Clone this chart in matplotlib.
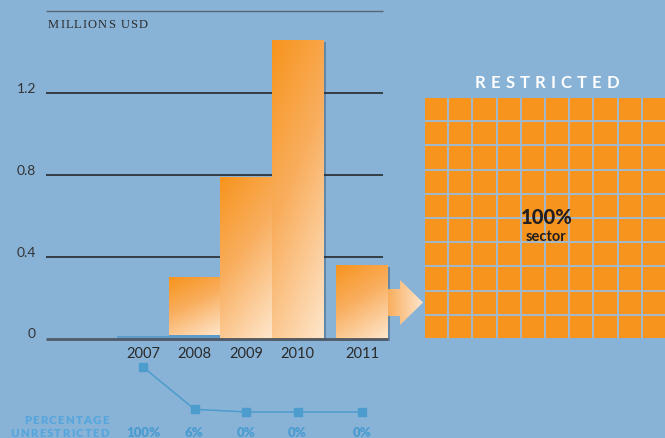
import numpy as np
import matplotlib
matplotlib.use('Agg')
import matplotlib.pyplot as plt
from matplotlib.patches import Rectangle, Polygon
from matplotlib.colors import LinearSegmentedColormap
import matplotlib.patheffects as pe
from matplotlib.font_manager import FontProperties

# ---------------- data ----------------
years = ['2007', '2008', '2009', '2010', '2011']
total_musd = [0.012, 0.30, 0.79, 1.46, 0.36]
pct_unrestricted = [100, 6, 0, 0, 0]
y_ticks = [0, 0.4, 0.8, 1.2]
y_tick_labels = ['0', '0.4', '0.8', '1.2']
restricted_share_2011 = 100          # percent -> filled grid cells
grid_label = '100%'
grid_sublabel = 'sector'
unit_label = 'MILLIONS USD'
grid_title = 'RESTRICTED'
pct_title = ['PERCENTAGE', 'UNRESTRICTED']

# ---------------- style ----------------
W, H = 665, 439
BG = '#88B3D7'
ORANGE = '#F7941D'
PEACH = '#FEE6CB'
BLUE = '#4C9CCD'
STRIP = '#5E9BCB'
FONT = 'Lato'

fig = plt.figure(figsize=(W / 100, H / 100), dpi=100, facecolor=BG)


def fx(px):
    return px / W


def fy(py):
    return 1 - py / H


x_pos = [0, 1, 2, 3, 4.25]
unit = 51.5
xl = ((46 - 143) / unit, (392 - 143) / unit)
x_grid_right = (383 - 143) / unit
x_base_right = (388 - 143) / unit

cmap = LinearSegmentedColormap.from_list('og', [(0, ORANGE), (0.45, '#F9AE5E'), (1, PEACH)])

# ---------------- main bar axes ----------------
ax = fig.add_axes([fx(46), fy(339.5), fx(392) - fx(46), fy(12) - fy(339.5)])
ax.axis('off')

ax.hlines(y_ticks[1:], xl[0], x_grid_right, color='#1d1d1d', lw=1.1, zorder=1)
ax.hlines(1.6, xl[0], x_grid_right, color='#5b6670', lw=1.0, zorder=1, clip_on=False)

yy = np.linspace(0, 1, 200)[:, None]
xx = np.linspace(0, 1, 60)[None, :]
grad = np.clip(0.3 * xx + 0.7 * (1 - yy), 0, 1)

for x, tot, p in zip(x_pos, total_musd, pct_unrestricted):
    unr = tot * p / 100
    rest = tot - unr
    shadow = Rectangle((x - 0.5, 0), 1, tot, fc=ORANGE if rest > 0 else STRIP, ec='none', zorder=2,
                       path_effects=[pe.SimplePatchShadow(offset=(2, -1.5), shadow_rgbFace='#1f3550', alpha=0.35),
                                     pe.Normal()], clip_on=False)
    ax.add_patch(shadow)
    if unr > 0:
        ax.add_patch(Rectangle((x - 0.5, 0), 1, unr, fc=STRIP, ec='none', zorder=3, clip_on=False))
    if rest > 0:
        rect = Rectangle((x - 0.5, unr), 1, rest, fc='none', ec='none', zorder=3)
        ax.add_patch(rect)
        im = ax.imshow(grad, extent=[x - 0.5, x + 0.5, unr, unr + rest], cmap=cmap, vmin=0, vmax=1,
                       aspect='auto', origin='lower', interpolation='bilinear', zorder=4)
        im.set_clip_path(rect)

ax.hlines(0, xl[0], x_base_right, color='#4F5B68', lw=2, zorder=5, clip_on=False)
ax.set_xlim(*xl)
ax.set_ylim(0, 1.6)

for v, lab in zip(y_ticks, y_tick_labels):
    ax.annotate(lab, xy=(xl[0], v), xytext=(-10, 5), textcoords='offset pixels', ha='right', va='center',
                fontsize=10, color='#333333', family=FONT, annotation_clip=False)
for x, lab in zip(x_pos, years):
    ax.annotate(lab, xy=(x, 0), xytext=(0, -15), textcoords='offset pixels', ha='center', va='center',
                fontsize=10.5, color='#2a2a2a', family=FONT, annotation_clip=False)

# ---------------- percentage line axes ----------------
ax2 = fig.add_axes([fx(46), fy(413), fx(392) - fx(46), fy(368) - fy(413)])
ax2.axis('off')
ax2.set_xlim(*xl)
ax2.set_ylim(0, 100)
ax2.plot(x_pos, pct_unrestricted, color=BLUE, lw=1.1, marker='s', ms=5.5, clip_on=False)
for x, p in zip(x_pos, pct_unrestricted):
    ax2.annotate(f'{p}%', xy=(x, 0), xytext=(0, -20), textcoords='offset pixels', ha='center', va='center',
                 fontsize=9.5, weight='heavy', color='#4A9BD0', family=FONT, annotation_clip=False)

# ---------------- overlay (pixel coordinates) ----------------
ax3 = fig.add_axes([0, 0, 1, 1])
ax3.axis('off')
renderer = fig.canvas.get_renderer()


def spaced(x, y, s, spacing, ha='left', size=10, weight='normal', color='k', family=FONT):
    fp = FontProperties(family=family, weight=weight, size=size)
    widths = []
    for c in s:
        if c == ' ':
            widths.append(size * 100 / 72 * 0.25)
        else:
            widths.append(renderer.get_text_width_height_descent(c, fp, ismath=False)[0])
    total = sum(widths) + spacing * (len(s) - 1)
    x0 = x - total / 2 if ha == 'center' else (x - total if ha == 'right' else x)
    for c, w in zip(s, widths):
        if c != ' ':
            ax3.text(x0, y, c, ha='left', va='center', fontproperties=fp, color=color)
        x0 += w + spacing


# grid of cells
gx0, gy0, pitch, gap = 425, 99, 24.2, 2.0
ax3.add_patch(Rectangle((gx0, gy0), 10 * pitch - gap, 10 * pitch - gap, fc='#A2B8C8', ec='none'))
for k in range(100):
    r, c = divmod(k, 10)
    fc = ORANGE if k < restricted_share_2011 else BG
    ax3.add_patch(Rectangle((gx0 + c * pitch, gy0 + r * pitch), pitch - gap, pitch - gap, fc=fc, ec='none'))

# arrow
arrow = Polygon([(388, 290), (400, 290), (400, 281), (423, 303.5), (400, 326), (400, 317), (388, 317)],
                closed=True, fc='none', ec='none')
ax3.add_patch(arrow)
agrad = np.linspace(0.45, 1, 100)[None, :]
aim = ax3.imshow(agrad, extent=[388, 423, 326, 281], cmap=cmap, vmin=0, vmax=1, aspect='auto',
                 interpolation='bilinear')
aim.set_clip_path(arrow)

ax3.set_xlim(0, W)
ax3.set_ylim(H, 0)

spaced(547, 83, grid_title, 5.2, ha='center', size=12, weight='bold', color='white')
ax3.text(547, 218, grid_label, ha='center', va='center', fontsize=14.5, weight='black', color='#231F20',
         family=FONT)
ax3.text(546, 237, grid_sublabel, ha='center', va='center', fontsize=10.5, weight='bold', color='#231F20',
         family=FONT)
spaced(48, 25, unit_label, 1.1, ha='left', size=9, color='#2b2b2b', family='Liberation Serif')
spaced(109, 421, pct_title[0], 1.3, ha='right', size=8.2, weight='heavy', color='#55A6DC')
spaced(109, 434, pct_title[1], 1.3, ha='right', size=8.2, weight='heavy', color='#55A6DC')

fig.savefig('out.png', dpi=100, facecolor=BG)
